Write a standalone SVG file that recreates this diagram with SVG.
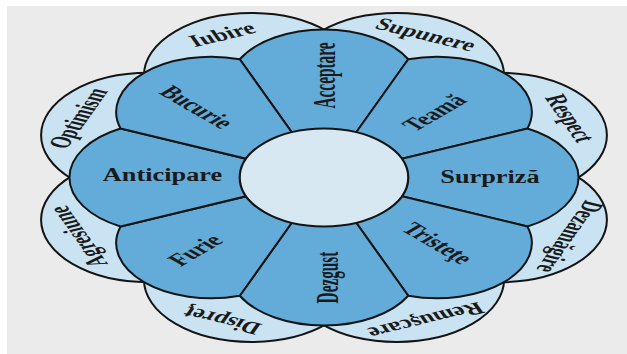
<svg xmlns="http://www.w3.org/2000/svg" width="627" height="354" viewBox="0 0 627 354">
<style>
.bg{fill:#ebebeb}
.pale{fill:#c9e3f2;stroke:#141414;stroke-width:2;vector-effect:non-scaling-stroke}
.blue{fill:#63abd8;stroke:#141414;stroke-width:2;stroke-linejoin:round;vector-effect:non-scaling-stroke}
.core{fill:#d8e8f2;stroke:#141414;stroke-width:2.2;vector-effect:non-scaling-stroke}
text{font-family:"Liberation Serif","Times New Roman",serif;font-weight:bold;fill:#1a1a1a;text-anchor:middle;dominant-baseline:central}
.in{font-size:18px}
.out{font-size:17.5px}
</style>
<rect width="627" height="354" fill="#ffffff"/>
<rect class="bg" x="7" y="6" width="620" height="348"/>
<g transform="translate(324,177.5) scale(1.72,1)">
  <g id="outer-petals">
    <g id="iubire"><circle class="pale" cx="-42.29" cy="-102.09" r="62.4"/></g>
    <g id="supunere"><circle class="pale" cx="42.29" cy="-102.09" r="62.4"/></g>
    <g id="respect"><circle class="pale" cx="102.09" cy="-42.29" r="62.4"/></g>
    <g id="dezamagire"><circle class="pale" cx="102.09" cy="42.29" r="62.4"/></g>
    <g id="remuscare"><circle class="pale" cx="42.29" cy="102.09" r="62.4"/></g>
    <g id="dispret"><circle class="pale" cx="-42.29" cy="102.09" r="62.4"/></g>
    <g id="agresiune"><circle class="pale" cx="-102.09" cy="42.29" r="62.4"/></g>
    <g id="optimism"><circle class="pale" cx="-102.09" cy="-42.29" r="62.4"/></g>
  </g>
  <g id="inner-petals">
    <g id="acceptare"><path class="blue" d="M0,0 L-48.98,-118.26 A55.2,55.2 0 0 1 48.98,-118.26 Z"/></g>
    <g id="teama"><path class="blue" d="M0,0 L48.98,-118.26 A55.2,55.2 0 0 1 118.26,-48.98 Z"/></g>
    <g id="surpriza"><path class="blue" d="M0,0 L118.26,-48.98 A55.2,55.2 0 0 1 118.26,48.98 Z"/></g>
    <g id="tristete"><path class="blue" d="M0,0 L118.26,48.98 A55.2,55.2 0 0 1 48.98,118.26 Z"/></g>
    <g id="dezgust"><path class="blue" d="M0,0 L48.98,118.26 A55.2,55.2 0 0 1 -48.98,118.26 Z"/></g>
    <g id="furie"><path class="blue" d="M0,0 L-48.98,118.26 A55.2,55.2 0 0 1 -118.26,48.98 Z"/></g>
    <g id="anticipare"><path class="blue" d="M0,0 L-118.26,48.98 A55.2,55.2 0 0 1 -118.26,-48.98 Z"/></g>
    <g id="bucurie"><path class="blue" d="M0,0 L-118.26,-48.98 A55.2,55.2 0 0 1 -48.98,-118.26 Z"/></g>
  </g>
  <g id="center"><circle class="core" cx="0" cy="0" r="49"/></g>
  <g id="labels">
    <text class="in" transform="translate(0,-102) rotate(-90) scale(0.85,1)">Acceptare</text>
    <text class="in" transform="translate(64,-65) rotate(-45) scale(0.85,1)">Teamă</text>
    <text class="in" transform="translate(96.5,-0.5) scale(0.85,1)">Surpriză</text>
    <text class="in" transform="translate(66.3,65.5) rotate(45) scale(0.85,1)">Tristeţe</text>
    <text class="in" transform="translate(2,100) rotate(-90) scale(0.85,1)">Dezgust</text>
    <text class="in" transform="translate(-75,72.5) rotate(-45) scale(0.85,1)">Furie</text>
    <text class="in" transform="translate(-93.9,-2.5) scale(0.85,1)">Anticipare</text>
    <text class="in" transform="translate(-73.8,-70.5) rotate(45) scale(0.85,1)">Bucurie</text>
    <text class="out" transform="translate(-59.3,-143.2) rotate(-22.5) scale(0.85,1)">Iubire</text>
    <text class="out" transform="translate(59.3,-143.2) rotate(22.5) scale(0.85,1)">Supunere</text>
    <text class="out" transform="translate(143.2,-59.3) rotate(67.5) scale(0.85,1)">Respect</text>
    <text class="out" transform="translate(143.2,59.3) rotate(112.5) scale(0.85,1)">Dezamăgire</text>
    <text class="out" transform="translate(59.3,143.2) rotate(157.5) scale(0.85,1)">Remuşcare</text>
    <text class="out" transform="translate(-59.3,143.2) rotate(202.5) scale(0.85,1)">Dispreţ</text>
    <text class="out" transform="translate(-143.2,59.3) rotate(247.5) scale(0.85,1)">Agresiune</text>
    <text class="out" transform="translate(-143.2,-59.3) rotate(-67.5) scale(0.85,1)">Optimism</text>
  </g>
</g>
</svg>
